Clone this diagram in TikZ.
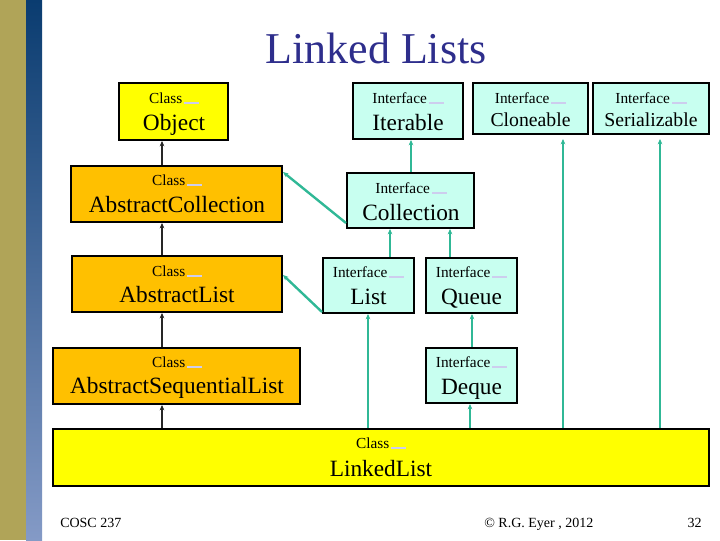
\documentclass[tikz,border=0pt]{standalone}
\usepackage{fontspec}
\setmainfont{Liberation Serif}
\usetikzlibrary{arrows.meta,calc}
\definecolor{olivebar}{RGB}{176,164,88}
\definecolor{navytop}{RGB}{10,60,112}
\definecolor{bluebot}{RGB}{132,154,198}
\definecolor{titleblue}{RGB}{46,46,140}
\definecolor{clsyellow}{RGB}{255,255,0}
\definecolor{clsorange}{RGB}{255,192,0}
\definecolor{ifill}{RGB}{200,255,240}
\definecolor{tealline}{RGB}{48,184,150}
\definecolor{lav}{RGB}{205,205,238}
\newdimen\pxu \pxu=0.75pt
\newcommand{\lavblank}{\hspace{1.5pt}\textcolor{lav}{\rule[-0.6pt]{11pt}{1.2pt}}}
\newcommand{\smallfs}{\fontsize{11.5}{13}\selectfont}
\newcommand{\bigfs}{\fontsize{17.5}{20}\selectfont}
\newcommand{\midfs}{\fontsize{14.8}{17}\selectfont}
\tikzset{
  umlbox/.style={draw=black, line width=1.5pt, inner sep=0pt, anchor=center},
  yelbox/.style={umlbox, fill=clsyellow},
  orgbox/.style={umlbox, fill=clsorange},
  ifbox/.style={umlbox, fill=ifill},
  lbl/.style={anchor=base, inner sep=0pt, font=\smallfs},
  nm/.style={anchor=base, inner sep=0pt, font=\bigfs},
  nmm/.style={anchor=base, inner sep=0pt, font=\midfs},
  blk/.style={draw=black!85, line width=1.5pt, -{Stealth[length=4pt,width=3.5pt]}},
  tl/.style={draw=tealline, line width=1.8pt, -{Stealth[length=4pt,width=3.5pt]}},
  foot/.style={anchor=base west, inner sep=0pt, font=\fontsize{10.5}{12}\selectfont}
}
\begin{document}
\begin{tikzpicture}[x=0.75pt, y=-0.75pt]
\useasboundingbox (0,0) rectangle (720,540);
% side bars
\fill[olivebar] (0,0) rectangle (26,540);
\shade[top color=navytop, bottom color=bluebot] (26,0) rectangle (42,540);
% title
\node[anchor=base, inner sep=0pt, text=titleblue, font=\fontsize{33}{38}\selectfont] (title) at (376,63) {Linked Lists};
% boxes
\node[yelbox, minimum width=109\pxu, minimum height=57\pxu] (obj) at (173.5,111.5) {};
\node[orgbox, minimum width=211\pxu, minimum height=56\pxu] (acol) at (176.5,194) {};
\node[orgbox, minimum width=210\pxu, minimum height=56\pxu] (alist) at (177,284) {};
\node[orgbox, minimum width=247\pxu, minimum height=56\pxu] (asl) at (176.5,376) {};
\node[yelbox, minimum width=656\pxu, minimum height=57\pxu] (ll) at (381,457.5) {};
\node[ifbox, minimum width=110\pxu, minimum height=56\pxu] (iter) at (408,111) {};
\node[ifbox, minimum width=115\pxu, minimum height=51\pxu] (clone) at (530.5,108.5) {};
\node[ifbox, minimum width=116\pxu, minimum height=51\pxu] (ser) at (651,108.5) {};
\node[ifbox, minimum width=127\pxu, minimum height=55\pxu] (coll) at (410.5,200.5) {};
\node[ifbox, minimum width=91\pxu, minimum height=55\pxu] (list) at (368.5,285.5) {};
\node[ifbox, minimum width=91\pxu, minimum height=55\pxu] (queue) at (471.5,285.5) {};
\node[ifbox, minimum width=91\pxu, minimum height=55\pxu] (deque) at (471.5,375.5) {};
% texts
\node[lbl] (objk) at (174,103) {Class\lavblank};
\node[nm] (objn) at (174,130) {Object};
\node[lbl] (acolk) at (177,185) {Class\lavblank};
\node[nm] (acoln) at (177,212) {AbstractCollection};
\node[lbl] (alistk) at (177,276) {Class\lavblank};
\node[nm] (alistn) at (177,302) {AbstractList};
\node[lbl] (aslk) at (177,367) {Class\lavblank};
\node[nm] (asln) at (177,393) {AbstractSequentialList};
\node[lbl] (llk) at (381,448) {Class\lavblank};
\node[nm] (lln) at (381,476) {LinkedList};
\node[lbl] (iterk) at (408,103) {Interface\lavblank};
\node[nm] (itern) at (408,130) {Iterable};
\node[lbl] (clonek) at (530.5,103) {Interface\lavblank};
\node[nmm] (clonen) at (530.5,126) {Cloneable};
\node[lbl] (serk) at (651,103) {Interface\lavblank};
\node[nmm] (sern) at (651,126) {Serializable};
\node[lbl] (collk) at (411,193) {Interface\lavblank};
\node[nm] (colln) at (411,220) {Collection};
\node[lbl] (listk) at (368.5,277) {Interface\lavblank};
\node[nm] (listn) at (368.5,304) {List};
\node[lbl] (queuek) at (471.5,277) {Interface\lavblank};
\node[nm] (queuen) at (471.5,304) {Queue};
\node[lbl] (dequek) at (471.5,367) {Interface\lavblank};
\node[nm] (dequen) at (471.5,394) {Deque};
% connector x positions
\coordinate (xa) at (162,0);
\coordinate (xit) at (411,0);
\coordinate (xlc) at (390,0);
\coordinate (xqc) at (450,0);
\coordinate (xll) at (368,0);
\coordinate (xdq) at (472,0);
\coordinate (xld) at (470,0);
\coordinate (xcl) at (563,0);
\coordinate (xse) at (660,0);
% class connectors
\draw[blk] (acol.north -| xa) -- (obj.south -| xa);
\draw[blk] (alist.north -| xa) -- (acol.south -| xa);
\draw[blk] (asl.north -| xa) -- (alist.south -| xa);
\draw[blk] (ll.north -| xa) -- (asl.south -| xa);
% interface connectors
\draw[tl] (coll.north -| xit) -- (iter.south -| xit);
\draw[tl] ($(coll.south west)+(0,-6)$) -- ($(acol.north east)+(0,7)$);
\draw[tl] (list.north -| xlc) -- (coll.south -| xlc);
\draw[tl] (queue.north -| xqc) -- (coll.south -| xqc);
\draw[tl] ($(list.south west)+(0,-2)$) -- ($(alist.north east)+(0,20)$);
\draw[tl] (ll.north -| xll) -- (list.south -| xll);
\draw[tl] (deque.north -| xdq) -- (queue.south -| xdq);
\draw[tl] (ll.north -| xld) -- (deque.south -| xld);
\draw[tl] (ll.north -| xcl) -- ($(clone.south -| xcl)+(0,4)$);
\draw[tl] (ll.north -| xse) -- ($(ser.south -| xse)+(0,4)$);
% footer
\node[foot] (f1) at (60,527) {COSC 237};
\node[foot] (f2) at (484,527) {© R.G. Eyer , 2012};
\node[anchor=base east, inner sep=0pt, font=\fontsize{10.5}{12}\selectfont] (f3) at (702,527) {32};
\end{tikzpicture}
\end{document}
